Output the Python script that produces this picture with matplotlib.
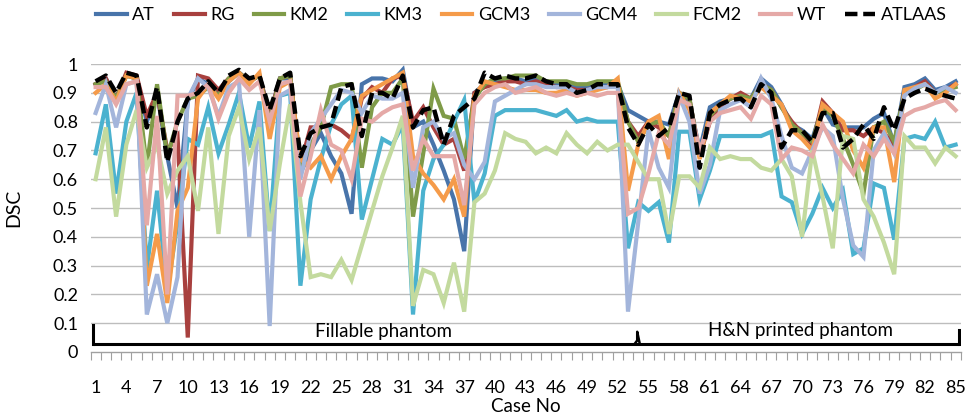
import matplotlib
matplotlib.use("Agg")
import matplotlib.pyplot as plt
import numpy as np

cases = list(range(1, 86))

ATLAAS = [0.94,0.96,0.90,0.97,0.96,0.78,0.92,0.66,0.80,0.88,
          0.90,0.94,0.90,0.96,0.98,0.95,0.96,0.84,0.95,0.97,
          0.68,0.76,0.78,0.79,0.92,0.93,0.75,0.90,0.90,0.88,
          0.96,0.78,0.84,0.85,0.72,0.82,0.85,0.88,0.97,0.95,
          0.96,0.95,0.95,0.96,0.94,0.93,0.93,0.90,0.91,0.93,
          0.93,0.93,0.78,0.72,0.79,0.75,0.78,0.90,0.89,0.64,
          0.83,0.86,0.875,0.88,0.85,0.93,0.90,0.71,0.77,0.77,
          0.73,0.83,0.83,0.71,0.74,0.79,0.74,0.85,0.77,0.88,
          0.90,0.915,0.90,0.89,0.88]
AT = [0.93,0.95,0.88,0.96,0.95,0.80,0.90,0.68,0.50,0.87,
      0.95,0.93,0.90,0.94,0.97,0.94,0.96,0.82,0.95,0.95,
      0.62,0.70,0.76,0.68,0.62,0.48,0.93,0.95,0.95,0.94,
      0.98,0.78,0.80,0.72,0.63,0.53,0.35,0.90,0.93,0.94,
      0.95,0.95,0.94,0.95,0.94,0.93,0.93,0.92,0.92,0.93,
      0.93,0.93,0.84,0.82,0.80,0.80,0.79,0.90,0.87,0.70,
      0.85,0.87,0.88,0.89,0.88,0.95,0.92,0.86,0.79,0.77,
      0.74,0.85,0.79,0.78,0.78,0.78,0.81,0.83,0.72,0.92,
      0.93,0.95,0.91,0.92,0.94]
RG = [0.93,0.95,0.88,0.97,0.96,0.82,0.90,0.70,0.75,0.05,
      0.96,0.95,0.91,0.95,0.97,0.94,0.96,0.82,0.95,0.96,
      0.65,0.78,0.78,0.79,0.77,0.74,0.88,0.92,0.90,0.95,
      0.96,0.80,0.85,0.78,0.72,0.74,0.63,0.90,0.92,0.93,
      0.94,0.94,0.93,0.94,0.93,0.92,0.92,0.91,0.91,0.92,
      0.92,0.93,0.80,0.75,0.80,0.78,0.75,0.90,0.88,0.68,
      0.80,0.85,0.88,0.90,0.88,0.93,0.91,0.85,0.80,0.76,
      0.72,0.87,0.83,0.77,0.77,0.75,0.78,0.76,0.72,0.90,
      0.92,0.94,0.90,0.91,0.93]
KM2 = [0.93,0.94,0.88,0.96,0.95,0.64,0.93,0.68,0.80,0.88,
       0.89,0.92,0.89,0.95,0.97,0.94,0.96,0.80,0.95,0.96,
       0.64,0.72,0.78,0.92,0.93,0.93,0.64,0.85,0.90,0.90,
       0.95,0.47,0.69,0.915,0.82,0.81,0.67,0.88,0.93,0.95,
       0.95,0.96,0.96,0.96,0.94,0.94,0.94,0.93,0.93,0.94,
       0.94,0.94,0.80,0.73,0.79,0.80,0.75,0.90,0.88,0.68,
       0.82,0.86,0.88,0.89,0.88,0.93,0.91,0.85,0.79,0.76,
       0.73,0.85,0.82,0.74,0.65,0.55,0.78,0.80,0.73,0.90,
       0.91,0.93,0.90,0.91,0.92]
KM3 = [0.69,0.86,0.55,0.80,0.90,0.29,0.56,0.21,0.45,0.74,
       0.72,0.85,0.69,0.79,0.90,0.71,0.87,0.42,0.89,0.90,
       0.23,0.53,0.67,0.79,0.86,0.89,0.46,0.60,0.74,0.72,
       0.79,0.13,0.56,0.67,0.72,0.80,0.875,0.52,0.62,0.82,
       0.84,0.84,0.84,0.84,0.83,0.82,0.84,0.80,0.81,0.80,
       0.80,0.80,0.36,0.52,0.49,0.52,0.38,0.765,0.765,0.53,
       0.63,0.75,0.75,0.75,0.75,0.75,0.765,0.54,0.52,0.41,
       0.48,0.57,0.50,0.56,0.34,0.36,0.585,0.57,0.39,0.74,
       0.75,0.74,0.80,0.71,0.72]
GCM3 = [0.90,0.93,0.87,0.96,0.95,0.23,0.41,0.17,0.49,0.57,
        0.88,0.93,0.88,0.94,0.97,0.93,0.97,0.74,0.92,0.94,
        0.67,0.64,0.68,0.60,0.68,0.74,0.89,0.91,0.93,0.95,
        0.97,0.68,0.62,0.58,0.53,0.60,0.47,0.89,0.94,0.93,
        0.92,0.91,0.91,0.91,0.90,0.90,0.91,0.89,0.90,0.91,
        0.92,0.95,0.56,0.72,0.80,0.82,0.67,0.90,0.84,0.67,
        0.83,0.86,0.89,0.88,0.87,0.92,0.89,0.86,0.77,0.74,
        0.70,0.86,0.83,0.80,0.70,0.64,0.78,0.78,0.59,0.91,
        0.92,0.93,0.88,0.90,0.93]
GCM4 = [0.83,0.93,0.78,0.93,0.94,0.13,0.27,0.10,0.26,0.88,
        0.95,0.92,0.82,0.92,0.94,0.40,0.84,0.09,0.89,0.91,
        0.60,0.76,0.81,0.86,0.91,0.90,0.83,0.89,0.88,0.88,
        0.90,0.57,0.78,0.80,0.74,0.76,0.65,0.60,0.66,0.87,
        0.89,0.91,0.93,0.93,0.92,0.92,0.92,0.90,0.91,0.92,
        0.92,0.92,0.14,0.45,0.77,0.64,0.57,0.89,0.80,0.55,
        0.65,0.84,0.86,0.875,0.85,0.95,0.88,0.75,0.64,0.62,
        0.70,0.78,0.75,0.53,0.37,0.33,0.70,0.76,0.69,0.89,
        0.915,0.93,0.90,0.92,0.90]
FCM2 = [0.60,0.78,0.47,0.72,0.84,0.64,0.72,0.55,0.63,0.68,
        0.49,0.78,0.41,0.75,0.85,0.67,0.78,0.42,0.655,0.86,
        0.52,0.26,0.27,0.26,0.32,0.25,0.37,0.49,0.61,0.71,
        0.82,0.16,0.285,0.27,0.17,0.31,0.14,0.52,0.55,0.63,
        0.76,0.74,0.73,0.69,0.71,0.69,0.76,0.72,0.69,0.73,
        0.70,0.72,0.72,0.66,0.60,0.60,0.41,0.61,0.61,0.57,
        0.71,0.67,0.68,0.67,0.67,0.64,0.63,0.67,0.61,0.40,
        0.70,0.54,0.36,0.75,0.74,0.53,0.47,0.38,0.27,0.75,
        0.71,0.71,0.655,0.71,0.68]
WT = [0.92,0.92,0.86,0.93,0.94,0.44,0.82,0.20,0.89,0.89,
      0.90,0.93,0.81,0.90,0.95,0.91,0.94,0.80,0.93,0.94,
      0.54,0.68,0.84,0.72,0.70,0.60,0.81,0.80,0.83,0.85,
      0.86,0.63,0.74,0.68,0.68,0.68,0.51,0.86,0.90,0.92,
      0.93,0.90,0.91,0.92,0.90,0.89,0.90,0.89,0.90,0.89,
      0.90,0.90,0.48,0.50,0.62,0.76,0.72,0.875,0.86,0.70,
      0.80,0.83,0.84,0.85,0.81,0.89,0.86,0.67,0.71,0.70,
      0.68,0.79,0.72,0.67,0.62,0.72,0.68,0.74,0.69,0.82,
      0.84,0.85,0.865,0.875,0.84]

series_names = ["AT", "RG", "KM2", "KM3", "GCM3", "GCM4", "FCM2", "WT"]
series_vals = [AT, RG, KM2, KM3, GCM3, GCM4, FCM2, WT]
colors = ["#4874AA", "#A8403E", "#7F9B48", "#4BB2CF", "#F59B4A", "#A3B5DB", "#C3DA9E", "#E5A9A7"]

group_labels = ["Fillable phantom", "H&N printed phantom"]
xtick_cases = list(range(1, 86, 3))
ytick_vals = [round(0.1 * i, 1) for i in range(11)]

plt.rcParams['font.family'] = ['Lato', 'DejaVu Sans']

fig = plt.figure(figsize=(9.68, 4.16), dpi=100)
ax = fig.add_axes([0.0935, 0.154, 0.899, 0.692])

for name, vals, c in zip(series_names, series_vals, colors):
    ax.plot(cases, vals, color=c, lw=3.0, label=name, solid_joinstyle='miter', zorder=2)
ax.plot(cases, ATLAAS, color='black', lw=3.2, ls=(0, (2.8, 1.3)), label="ATLAAS", zorder=3)

ax.set_xlim(0.5, 85.5)
ax.set_ylim(0, 1)
ax.set_yticks(ytick_vals)
ax.set_yticklabels(["0" if v == 0 else ("1" if v == 1 else f"{v:.1f}") for v in ytick_vals], fontsize=13)
ax.set_xticks(xtick_cases)
ax.set_xticklabels([str(c) for c in xtick_cases], fontsize=13)
ax.set_xticks(np.arange(0.5, 86, 1), minor=True)
ax.tick_params(axis='x', which='major', length=0, pad=20)
ax.tick_params(axis='x', which='minor', length=6, color='#A0A0A0', width=0.8)
ax.tick_params(axis='y', length=0, pad=9)

for v in ytick_vals[1:]:
    ax.axhline(v, color='#BDBDBD', lw=1.0, zorder=0)
for s in ['top', 'right', 'left']:
    ax.spines[s].set_visible(False)
ax.spines['bottom'].set_color('#A0A0A0')
ax.spines['bottom'].set_linewidth(1.0)

# bracket
split = 53.9
yb = 0.028
ax.plot([0.7, 85.3], [yb, yb], color='black', lw=2.2, zorder=4, solid_capstyle='butt')
ax.plot([0.7, 0.7], [yb, 0.095], color='black', lw=2.2, zorder=4)
ax.plot([85.3, 85.3], [yb, 0.075], color='black', lw=2.2, zorder=4)
ax.plot([split - 0.25, split, split, split + 0.25], [yb, 0.04, 0.07, yb], color='black', lw=1.8, zorder=4)

ax.text(29.1, 0.072, group_labels[0], ha='center', va='center', fontsize=13.5)
ax.text(69.8, 0.076, group_labels[1], ha='center', va='center', fontsize=13.5)

ax.set_ylabel("DSC", fontsize=14, labelpad=22)
ax.set_xlabel("Case No", fontsize=13.5, labelpad=2)

handles, labels = ax.get_legend_handles_labels()
fig.legend(handles, labels, loc='upper left', bbox_to_anchor=(0.092, 1.0), ncol=9,
           frameon=False, fontsize=13, handlelength=1.7, handletextpad=0.3,
           columnspacing=1.05, borderaxespad=0.0, borderpad=0.4)

fig.savefig("out.png", dpi=100)
